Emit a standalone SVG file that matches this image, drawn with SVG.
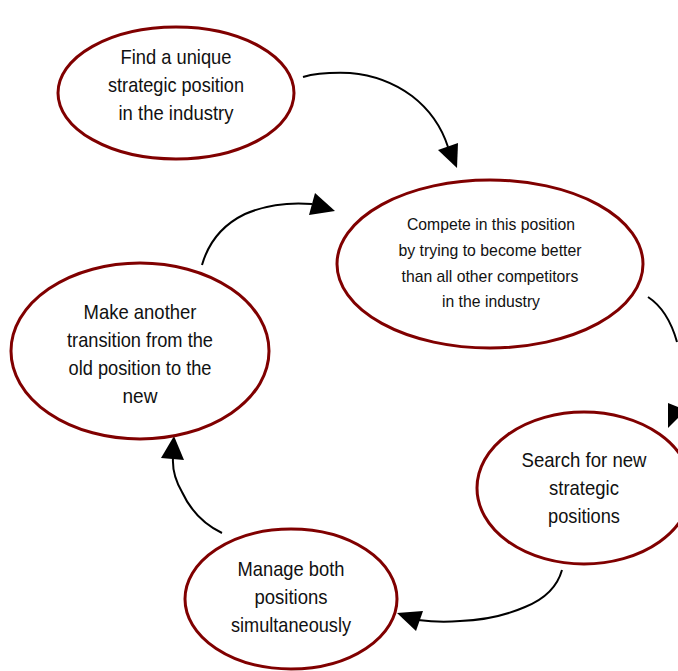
<svg xmlns="http://www.w3.org/2000/svg" width="678" height="671" viewBox="0 0 678 671">
<style>
.node ellipse{fill:#fff;stroke:#800000;stroke-width:3}
.node text{font-family:"Liberation Sans Narrow","Arial Narrow","Liberation Sans",sans-serif;fill:#111;text-anchor:middle}
.big{font-size:21px}
.small{font-size:17px}
.conn path{fill:none;stroke:#000;stroke-width:2}
.conn polygon{fill:#000}
</style>
<rect width="678" height="671" fill="#fff"/>
<g id="connectors" class="conn">
<path d="M303,77 Q320,72 350,73 Q385,76 412,96 Q438,116 448,147"/>
<polygon points="457,168 438,150 458,143"/>
<path d="M202,265 Q212,230 245,214 Q275,201 312,204"/>
<polygon points="335,211 315,193 309,215"/>
<path d="M648,297 Q668,310 677,342"/>
<polygon points="668,403 686,410 668,428"/>
<path d="M562,570 Q555,595 525,607 Q495,620 460,621 Q440,623 418,620"/>
<polygon points="397,613 423,611 416,631"/>
<path d="M222,533 Q195,520 182,492 Q172,475 173,458"/>
<polygon points="174,436 161,458 184,460"/>
</g>
<g id="node-find" class="node">
<ellipse cx="176" cy="93" rx="118" ry="66"/>
<text class="big" x="176" y="64" textLength="111" lengthAdjust="spacingAndGlyphs">Find a unique</text>
<text class="big" x="176" y="92" textLength="136" lengthAdjust="spacingAndGlyphs">strategic position</text>
<text class="big" x="176" y="120" textLength="115" lengthAdjust="spacingAndGlyphs">in the industry</text>
</g>
<g id="node-compete" class="node">
<ellipse cx="490" cy="264" rx="153" ry="84"/>
<text class="small" x="491" y="230" textLength="168" lengthAdjust="spacingAndGlyphs">Compete in this position</text>
<text class="small" x="490" y="256" textLength="183" lengthAdjust="spacingAndGlyphs">by trying to become better</text>
<text class="small" x="490" y="282" textLength="177" lengthAdjust="spacingAndGlyphs">than all other competitors</text>
<text class="small" x="491" y="307" textLength="98" lengthAdjust="spacingAndGlyphs">in the industry</text>
</g>
<g id="node-transition" class="node">
<ellipse cx="140" cy="351" rx="129" ry="88"/>
<text class="big" x="140" y="319" textLength="113" lengthAdjust="spacingAndGlyphs">Make another</text>
<text class="big" x="140" y="347" textLength="146" lengthAdjust="spacingAndGlyphs">transition from the</text>
<text class="big" x="140" y="375" textLength="143" lengthAdjust="spacingAndGlyphs">old position to the</text>
<text class="big" x="140" y="403" textLength="35" lengthAdjust="spacingAndGlyphs">new</text>
</g>
<g id="node-search" class="node">
<ellipse cx="584" cy="488" rx="107" ry="76"/>
<text class="big" x="584" y="467" textLength="125" lengthAdjust="spacingAndGlyphs">Search for new</text>
<text class="big" x="584" y="495" textLength="70" lengthAdjust="spacingAndGlyphs">strategic</text>
<text class="big" x="584" y="523" textLength="72" lengthAdjust="spacingAndGlyphs">positions</text>
</g>
<g id="node-manage" class="node">
<ellipse cx="291" cy="599" rx="106" ry="70"/>
<text class="big" x="291" y="576" textLength="107" lengthAdjust="spacingAndGlyphs">Manage both</text>
<text class="big" x="291" y="604" textLength="73" lengthAdjust="spacingAndGlyphs">positions</text>
<text class="big" x="291" y="632" textLength="120" lengthAdjust="spacingAndGlyphs">simultaneously</text>
</g>
</svg>
